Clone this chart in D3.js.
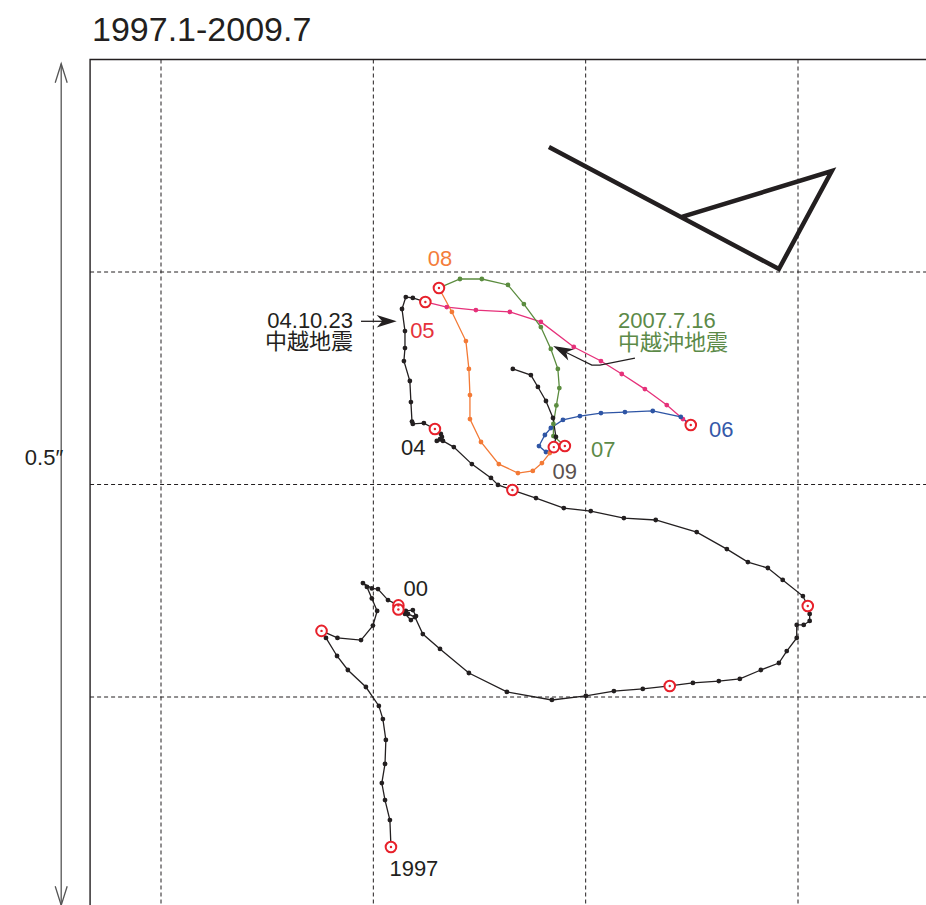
<!DOCTYPE html>
<html>
<head>
<meta charset="utf-8">
<script src="https://cdn.jsdelivr.net/npm/d3@7"></script>
<style>
body { margin: 0; background: #fff; }
svg { display: block; }
text { font-family: "Liberation Sans", "Noto Sans CJK JP", sans-serif; fill: #231f20; }
</style>
</head>
<body>
<div id="container"></div>
<script>
// monthly positions, grid step = 100 units (0.125")
// first point of every year is January (red ring)
var y1997 = [[108.3,-70.6],[107.8,-57.9],[105.5,-48.5],[104.0,-40.5],[105.5,-31.5],[105.9,-20.2],[104.5,-10.4],[102.6,-4.2],[96.5,4.7],[88.0,12.7],[82.9,19.3],[77.7,27.8]];
var y1998 = [[75.6,31.1],[83.1,27.8],[94.2,26.8],[99.8,33.6],[101.8,40.5],[99.3,46.4],[97.0,51.8],[95.1,53.6],[99.3,51.1],[102.2,50.8],[106.9,45.6]];
var y1999 = [[111.8,43.1],[115.3,40.5],[118.6,40.9],[120.1,38.1],[117.7,36.2],[114.9,39.1]];
var y2000 = [[111.8,41.2],[116.3,39.1],[119.6,37.6],[123.3,29.6],[131.4,22.6],[145.0,11.3],[162.9,2.4],[184.1,-1.4],[200.1,0.5],[213.3,2.8],[226.9,3.8]];
var y2001 = [[239.6,5.2],[250.5,6.6],[262.7,7.5],[272.6,8.5],[282.5,12.7],[291.0,16.0],[294.7,21.6],[299.4,27.8],[299.4,33.9],[302.7,33.9],[305.5,35.8],[305.5,39.1]];
var y2002 = [[304.6,42.8],[302.3,47.5],[292.8,55.1],[285.8,60.7],[276.4,63.5],[266.5,69.6],[252.3,77.6],[233.0,83.3],[218.0,84.2],[202.4,87.5],[189.7,88.9],[176.6,93.6]];
var y2003 = [[165.5,97.4],[158.7,99.8],[155.4,103.1],[146.4,109.6],[137.9,117.6],[132.8,120.5],[129.9,120.5],[131.4,121.4],[132.3,122.4],[131.8,123.8]];
var y2004 = [[129.0,126.1],[123.8,128.9],[118.6,128.5],[118.2,129.6],[117.7,138.8],[117.2,148.7],[114.4,158.1],[114.9,164.2],[114.9,172.2],[113.5,182.6],[115.3,188.2],[118.6,187.8]];
var y2005 = [[124.5,185.9],[134.6,183.5],[148.3,182.1],[164.3,181.2],[178.9,176.5],[194.4,164.7],[207.2,158.1],[217.0,152.0],[227.9,144.9],[238.2,137.4],[245.8,130.8]];
var y2006 = [[249.5,128.0],[244.8,131.8],[231.6,134.6],[218.5,134.1],[207.2,133.6],[197.3,132.2],[189.3,130.4],[183.6,126.6],[180.8,123.3],[178.0,118.1],[181.3,115.3]];
var y2007 = [[190.2,118.1],[184.8,122.8],[184.8,128.5],[186.2,137.2],[187.6,145.4],[186.9,154.4],[183.6,163.8],[178.9,174.1],[170.9,184.9],[163.4,193.9],[151.1,196.7],[140.8,196.7]];
var y2008 = [[130.9,192.5],[137.0,181.2],[143.6,167.5],[145.0,154.4],[145.5,142.1],[145.5,130.8],[150.7,120.0],[159.1,109.6],[168.1,105.4],[175.1,106.4],[179.4,110.1],[183.1,114.8]];
var y2009 = [[185.0,117.6],[186.0,122.4],[184.6,131.3],[181.3,139.3],[177.5,145.9],[174.2,151.5],[165.7,154.4]];

var years = [1997,1998,1999,2000,2001,2002,2003,2004,2005,2006,2007,2008,2009];
var tracks = [y1997,y1998,y1999,y2000,y2001,y2002,y2003,y2004,y2005,y2006,y2007,y2008,y2009];

// fault plane glyph
var mechGlyph = [[182.7,258.8],[291.0,201.4],[315.9,247.5],[245.3,225.9]];

var xGrid = [0,100,200,300];
var yGrid = [0,100,200];

var titleText = "1997.1-2009.7";
var scaleText = "0.5\u2033";
var quake04 = ["04.10.23","中越地震"];
var quake07 = ["2007.7.16","中越沖地震"];

// ---- layout / style ----
var W = 926, H = 905;
var black = "#231f20";
var colorOf = function(yr) {
    if (yr == 2005) return "#e6317a";
    if (yr == 2006) return "#2e55a5";
    if (yr == 2007) return "#5b8c3f";
    if (yr == 2008) return "#f37a36";
    return black;
};
var ringColor = "#e7212b";

var x = d3.scaleLinear().domain([0,300]).range([161,798]);
var y = d3.scaleLinear().domain([0,200]).range([697,272]);
var frameLeft = -33.4, frameTop = 300;

var svg = d3.select("#container").append("svg")
    .attr("width", W).attr("height", H);

// title
svg.append("text")
    .attr("x", 92).attr("y", 41)
    .style("font-size", "34px")
    .text(titleText);

// grid
svg.selectAll(".vgrid").data(xGrid).enter().append("line")
    .attr("class","vgrid")
    .attr("x1", d => x(d)).attr("x2", d => x(d))
    .attr("y1", y(frameTop)).attr("y2", H)
    .attr("stroke", black).attr("stroke-width", 1)
    .attr("stroke-dasharray", "4,3");

svg.selectAll(".hgrid").data(yGrid).enter().append("line")
    .attr("class","hgrid")
    .attr("x1", x(frameLeft)).attr("x2", W)
    .attr("y1", d => y(d)).attr("y2", d => y(d))
    .attr("stroke", black).attr("stroke-width", 1)
    .attr("stroke-dasharray", "4,3");

// frame (right & bottom fall outside the picture)
svg.append("path")
    .attr("d", "M" + x(frameLeft) + "," + H + "V" + y(frameTop) + "H" + W)
    .attr("fill", "none").attr("stroke", black).attr("stroke-width", 1.4);

// 0.5" scale bar
var barX = x(-47), barTop = y(298), barBot = y(-98);
svg.append("line")
    .attr("x1", barX).attr("x2", barX).attr("y1", barTop).attr("y2", barBot)
    .attr("stroke", "#555").attr("stroke-width", 1.3);
svg.append("path")
    .attr("d", "M" + (barX-6) + "," + (barTop+19) + "L" + barX + "," + barTop + "L" + (barX+6) + "," + (barTop+19)
        + "M" + (barX-6) + "," + (barBot-19) + "L" + barX + "," + barBot + "L" + (barX+6) + "," + (barBot-19))
    .attr("fill", "none").attr("stroke", "#555").attr("stroke-width", 1.3);
svg.append("text")
    .attr("x", barX + 2).attr("y", y(109.2))
    .attr("text-anchor", "end")
    .style("font-size", "22px")
    .text(scaleText);

// mechanism glyph
svg.append("path")
    .datum(mechGlyph)
    .attr("d", d3.line().x(d => x(d[0])).y(d => y(d[1])))
    .attr("fill", "none").attr("stroke", black)
    .attr("stroke-width", 4.5).attr("stroke-linejoin", "miter");

// tracks
var line = d3.line().x(d => x(d[0])).y(d => y(d[1]));
var gTrack = svg.append("g");
years.forEach(function(yr, i) {
    var pts = tracks[i].slice();
    if (i < tracks.length - 1) pts.push(tracks[i+1][0]);
    gTrack.append("path")
        .datum(pts)
        .attr("d", line)
        .attr("fill", "none")
        .attr("stroke", colorOf(yr))
        .attr("stroke-width", 1.3);
});
years.forEach(function(yr, i) {
    gTrack.selectAll(".dot" + yr)
        .data(tracks[i].slice(1))
        .enter().append("circle")
        .attr("cx", d => x(d[0])).attr("cy", d => y(d[1]))
        .attr("r", 2.4)
        .attr("fill", colorOf(yr));
});

// January rings
var jan = tracks.map(t => t[0]);
svg.selectAll(".ring").data(jan).enter().append("circle")
    .attr("class","ring")
    .attr("cx", d => x(d[0])).attr("cy", d => y(d[1]))
    .attr("r", 5.3)
    .attr("fill", "#fff").attr("stroke", ringColor).attr("stroke-width", 2);
svg.selectAll(".ringdot").data(jan).enter().append("circle")
    .attr("class","ringdot")
    .attr("cx", d => x(d[0])).attr("cy", d => y(d[1]))
    .attr("r", 1.2)
    .attr("fill", ringColor);

// year labels
var yearLabels = [
    {t:"1997", at:[119.1,-84.2], c:black},
    {t:"00",   at:[120.0,47.7],  c:black},
    {t:"04",   at:[118.8,113.9], c:black},
    {t:"05",   at:[123.1,169.1], c:"#e5323b"},
    {t:"06",   at:[263.9,122.5], c:"#3458a8"},
    {t:"07",   at:[208.3,112.8], c:"#5c8a48"},
    {t:"08",   at:[131.4,202.6], c:"#f47d3a"},
    {t:"09",   at:[190.1,102.4], c:"#5b5150"}
];
svg.selectAll(".ylab").data(yearLabels).enter().append("text")
    .attr("class","ylab")
    .attr("x", d => x(d.at[0])).attr("y", d => y(d.at[1]))
    .attr("text-anchor", "middle")
    .style("font-size", "22px")
    .style("fill", d => d.c)
    .text(d => d.t);

// arrow head helper: filled, notched
function head(tip, from, len, half) {
    var dx = tip[0]-from[0], dy = tip[1]-from[1];
    var L = Math.sqrt(dx*dx+dy*dy); dx /= L; dy /= L;
    var bx = tip[0]-dx*len, by = tip[1]-dy*len;
    var nx = -dy, ny = dx;
    var mx = tip[0]-dx*len*0.72, my = tip[1]-dy*len*0.72;
    return "M" + tip[0] + "," + tip[1] + "L" + (bx+nx*half) + "," + (by+ny*half)
        + "L" + mx + "," + my + "L" + (bx-nx*half) + "," + (by-ny*half) + "Z";
}

// 2004 Chuetsu earthquake
var a04 = [[94.2,176.8],[111.0,176.8]];
var p04 = a04.map(d => [x(d[0]), y(d[1])]);
svg.append("line")
    .attr("x1", p04[0][0]).attr("y1", p04[0][1])
    .attr("x2", p04[1][0]-8).attr("y2", p04[1][1])
    .attr("stroke", black).attr("stroke-width", 1.3);
svg.append("path").attr("d", head(p04[1], p04[0], 20, 6.3)).attr("fill", black);
svg.selectAll(".q04").data(quake04).enter().append("text")
    .attr("class","q04")
    .attr("x", x(90.4)).attr("y", (d,i) => y(i ? 163.6 : 173.5))
    .attr("text-anchor", "end")
    .style("font-size", "22px")
    .text(d => d);

// 2007 Chuetsu-oki earthquake
var a07 = [[223.2,159.5],[206.7,156.2],[202.9,156.2],[184.7,165.2]];
var p07 = a07.map(d => [x(d[0]), y(d[1])]);
svg.append("path")
    .datum(p07.slice(0,3).concat([[p07[3][0] + (p07[2][0]-p07[3][0])*0.3, p07[3][1] + (p07[2][1]-p07[3][1])*0.3]]))
    .attr("d", d3.line())
    .attr("fill", "none").attr("stroke", black).attr("stroke-width", 1.2);
svg.append("path").attr("d", head(p07[3], p07[2], 20, 6.3)).attr("fill", black);
svg.selectAll(".q07").data(quake07).enter().append("text")
    .attr("class","q07")
    .attr("x", x(215.2)).attr("y", (d,i) => y(i ? 163.4 : 173.7))
    .style("font-size", "22px")
    .style("fill", "#5c8a48")
    .text(d => d);
</script>
</body>
</html>
